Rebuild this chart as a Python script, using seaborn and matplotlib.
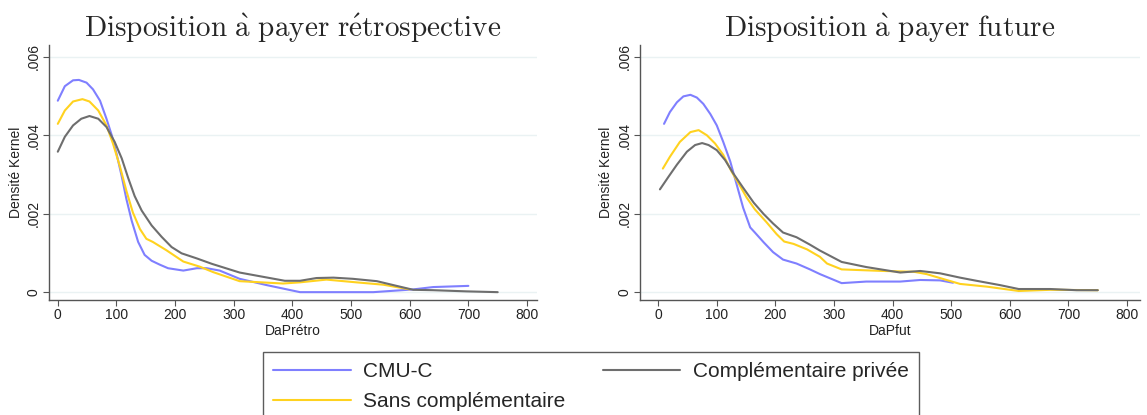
import numpy as np
import pandas as pd
import matplotlib
matplotlib.use("Agg")
import matplotlib.pyplot as plt
import seaborn as sns

sns.set_style("white")
plt.rcParams['font.family'] = ['Liberation Sans', 'DejaVu Sans']
plt.rcParams['mathtext.fontset'] = 'cm'

# ---- Data: DaPrétro (retrospective) ----
retro_cmu_x = [0, 12, 26, 36, 49, 60, 72, 83, 92, 100, 109, 117, 126, 137, 148, 160, 174, 188, 214, 237, 254, 276, 310, 356, 413, 538, 606, 640, 700]
retro_cmu_y = [0.00488, 0.00525, 0.0054, 0.00541, 0.00534, 0.00517, 0.00488, 0.00442, 0.004, 0.00354, 0.00295, 0.00237, 0.00182, 0.00128, 0.00095, 0.0008, 0.0007, 0.00061, 0.00055, 0.00061, 0.00061, 0.00055, 0.00034, 0.00018, 0.0, 0.0, 0.00007, 0.00013, 0.00016]

retro_sans_x = [0, 12, 26, 42, 54, 69, 83, 94, 106, 117, 128, 140, 151, 162, 185, 214, 242, 265, 310, 384, 413, 458, 509, 555, 600]
retro_sans_y = [0.00429, 0.00463, 0.00486, 0.00492, 0.00486, 0.00463, 0.00425, 0.00379, 0.0032, 0.00258, 0.00203, 0.00161, 0.00136, 0.00128, 0.00107, 0.00078, 0.00065, 0.00051, 0.00028, 0.00022, 0.00025, 0.00032, 0.00025, 0.00019, 0.00007]

retro_priv_x = [0, 12, 26, 40, 54, 69, 83, 97, 109, 120, 131, 143, 160, 177, 194, 211, 237, 263, 310, 387, 413, 441, 470, 503, 544, 572, 606, 640, 697, 750]
retro_priv_y = [0.00358, 0.00396, 0.00425, 0.00442, 0.00449, 0.00442, 0.00421, 0.00383, 0.00341, 0.00291, 0.00245, 0.00208, 0.0017, 0.00141, 0.00115, 0.00099, 0.00086, 0.00072, 0.0005, 0.00029, 0.00029, 0.00036, 0.00037, 0.00034, 0.00028, 0.00018, 0.00006, 0.00005, 0.00002, 0.0]

# ---- Data: DaPfut (future) ----
fut_cmu_x = [10, 20, 32, 43, 55, 66, 77, 89, 100, 111, 123, 134, 145, 157, 165, 180, 196, 213, 236, 259, 276, 313, 355, 413, 447, 481, 503]
fut_cmu_y = [0.00429, 0.00459, 0.00484, 0.00499, 0.00503, 0.00496, 0.0048, 0.00454, 0.00425, 0.00383, 0.00333, 0.00274, 0.00215, 0.00165, 0.00152, 0.00127, 0.00102, 0.00083, 0.00073, 0.00058, 0.00046, 0.00023, 0.00027, 0.00027, 0.00031, 0.0003, 0.00024]

fut_sans_x = [8, 20, 37, 55, 69, 83, 97, 111, 125, 140, 151, 165, 185, 202, 215, 231, 254, 276, 288, 313, 384, 436, 458, 492, 515, 561, 615, 669, 750]
fut_sans_y = [0.00315, 0.00345, 0.00383, 0.00408, 0.00413, 0.004, 0.00379, 0.0035, 0.00308, 0.0027, 0.00241, 0.00211, 0.00178, 0.00148, 0.00129, 0.00123, 0.00109, 0.0009, 0.00073, 0.00058, 0.00054, 0.00052, 0.00046, 0.00031, 0.00021, 0.00014, 0.00003, 0.00006, 0.00005]

fut_priv_x = [3, 18, 32, 49, 63, 75, 86, 100, 114, 128, 145, 163, 180, 196, 213, 236, 259, 276, 313, 355, 413, 447, 481, 515, 543, 583, 615, 669, 714, 750]
fut_priv_y = [0.00262, 0.00295, 0.00325, 0.00358, 0.00375, 0.0038, 0.00375, 0.00362, 0.00337, 0.00303, 0.00266, 0.00228, 0.00199, 0.00175, 0.00152, 0.0014, 0.00121, 0.00106, 0.00077, 0.00064, 0.0005, 0.00054, 0.00048, 0.00037, 0.00029, 0.00018, 0.00008, 0.00008, 0.00005, 0.00005]

series_names = ["CMU-C", "Sans complémentaire", "Complémentaire privée"]
titles = [r"$\mathrm{Disposition\ \grave{a}\ payer\ r\acute{e}trospective}$",
          r"$\mathrm{Disposition\ \grave{a}\ payer\ future}$"]
xlabels = ["DaPrétro", "DaPfut"]
x_ticks = [0, 100, 200, 300, 400, 500, 600, 700, 800]
y_ticks = [0, 0.002, 0.004, 0.006]
y_tick_labels = ["0", ".002", ".004", ".006"]

colors = {"CMU-C": "#7f7fff", "Sans complémentaire": "#ffd21f", "Complémentaire privée": "#6e6e6e"}

def make_df(xs, ys):
    frames = []
    for name, x, y in zip(series_names, xs, ys):
        frames.append(pd.DataFrame({"x": x, "y": y, "groupe": name}))
    return pd.concat(frames, ignore_index=True)

df_retro = make_df([retro_cmu_x, retro_sans_x, retro_priv_x], [retro_cmu_y, retro_sans_y, retro_priv_y])
df_fut = make_df([fut_cmu_x, fut_sans_x, fut_priv_x], [fut_cmu_y, fut_sans_y, fut_priv_y])

fig = plt.figure(figsize=(11.47, 4.15), dpi=100)
ax1 = fig.add_axes([49/1147, 1 - 300/415, 488/1147, 255/415])
ax2 = fig.add_axes([640/1147, 1 - 300/415, 500/1147, 255/415])

for ax, df, title, xl, xlim in [(ax1, df_retro, titles[0], xlabels[0], (-15, 817)),
                                (ax2, df_fut, titles[1], xlabels[1], (-31, 822))]:
    sns.lineplot(data=df, x="x", y="y", hue="groupe", palette=colors,
                 hue_order=series_names, ax=ax, linewidth=1.5, legend=False,
                 sort=False, estimator=None)
    ax.set_xlim(*xlim)
    ax.set_ylim(-0.0002, 0.0063)
    ax.set_xticks(x_ticks)
    ax.set_yticks(y_ticks)
    ax.set_yticklabels(y_tick_labels, rotation=90, va="center")
    for yv in y_ticks:
        ax.axhline(yv, color="#eaf2f3", lw=1.0, zorder=0)
    for s in ["top", "right"]:
        ax.spines[s].set_visible(False)
    for s in ["left", "bottom"]:
        ax.spines[s].set_color("#555555")
        ax.spines[s].set_linewidth(1.0)
    ax.tick_params(axis="both", which="both", direction="out", length=4,
                   color="#555555", labelsize=10, labelcolor="#222222",
                   bottom=True, left=True, pad=2)
    ax.set_xlabel(xl, fontsize=10, labelpad=1, color="#222222")
    ax.set_ylabel("Densité Kernel", fontsize=10, labelpad=3, color="#222222")
    ax.set_title(title, fontsize=21, pad=3)

handles = [plt.Line2D([], [], color=colors[n], lw=1.5) for n in series_names]
leg = fig.legend(handles, series_names, ncol=2, loc="upper left",
                 bbox_to_anchor=(263/1147, 1 - 352/415), fontsize=15,
                 frameon=True, fancybox=False, edgecolor="#333333",
                 handlelength=3.7, columnspacing=1.8, handletextpad=0.62,
                 borderpad=0.5, labelspacing=0.5, borderaxespad=0)
leg.get_frame().set_linewidth(1.0)

fig.savefig("out.png", dpi=100)
